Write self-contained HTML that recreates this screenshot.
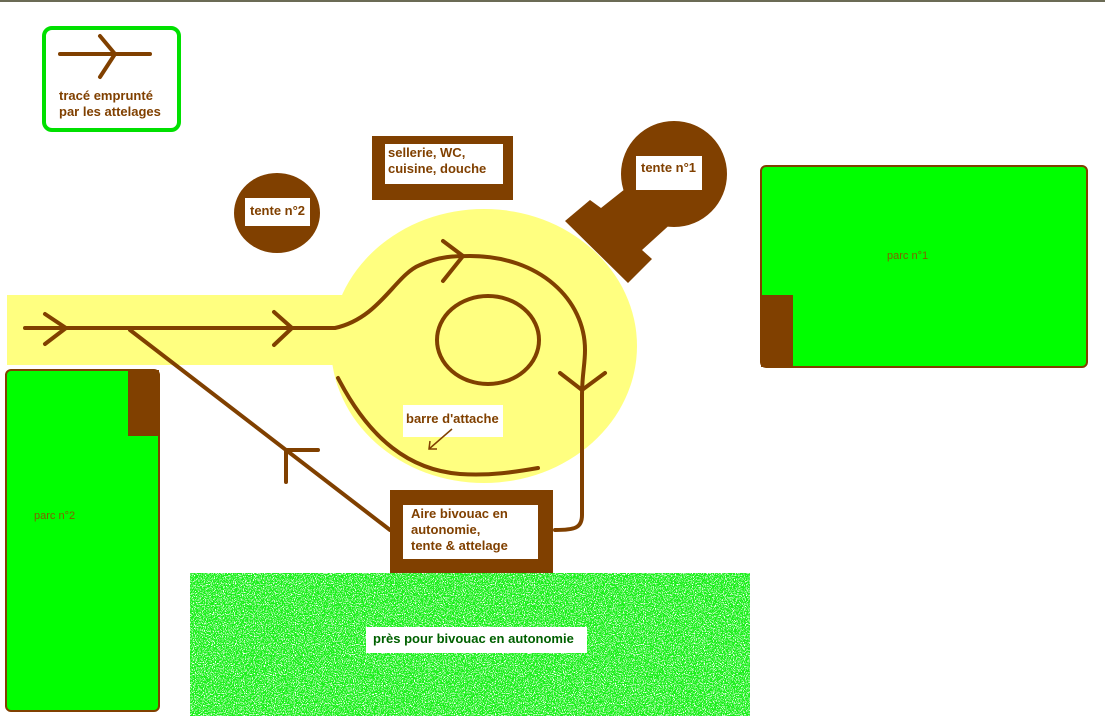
<!DOCTYPE html>
<html><head><meta charset="utf-8"><style>
html,body{margin:0;padding:0;background:#fff;}
svg{display:block;}
text{font-family:"Liberation Sans",Arial,sans-serif;font-weight:bold;font-size:13px;fill:#804000;}
</style></head><body>
<svg width="1105" height="716" viewBox="0 0 1105 716" xmlns="http://www.w3.org/2000/svg">
<defs>
<filter id="spk" x="0" y="0" width="100%" height="100%">
<feTurbulence type="fractalNoise" baseFrequency="0.9" numOctaves="2" seed="3" result="n"/>
<feColorMatrix in="n" type="matrix" values="0 0 0 0 1  0 0 0 0 1  0 0 0 0 1  0 0 0 -10 4.4" result="w"/>
<feComposite in="w" in2="SourceGraphic" operator="atop"/>
</filter>
</defs>
<rect x="0" y="0" width="1105" height="2" fill="#6b6b55"/>
<rect x="44" y="28" width="135" height="102" rx="8" fill="#fff" stroke="#00e000" stroke-width="4"/>
<g stroke="#804000" stroke-width="4" stroke-linecap="round" fill="none">
<line x1="60" y1="54" x2="150" y2="54"/>
<polyline points="100,36 115,54 100,77"/>
</g>
<text x="59" y="100">tracé emprunté</text>
<text x="59" y="116">par les attelages</text>
<rect x="7" y="295" width="340" height="70" fill="#ffff80"/>
<ellipse cx="484" cy="346" rx="153" ry="137" fill="#ffff80"/>
<circle cx="674" cy="174" r="53" fill="#804000"/>
<polygon points="565,221 590,200 601,208 630,185 675,220 642,250 652,259 628,283" fill="#804000"/>
<rect x="636" y="156" width="66" height="34" fill="#fff"/>
<text x="641" y="172">tente n°1</text>
<ellipse cx="277" cy="213" rx="43" ry="40" fill="#804000"/>
<rect x="245" y="198" width="65" height="28" fill="#fff"/>
<text x="250" y="215">tente n°2</text>
<rect x="372" y="136" width="141" height="64" fill="#804000"/>
<rect x="385" y="144" width="118" height="40" fill="#fff"/>
<text x="388" y="157">sellerie, WC,</text>
<text x="388" y="173">cuisine, douche</text>
<rect x="761" y="166" width="326" height="201" rx="5" fill="#00ff00" stroke="#804000" stroke-width="2"/>
<rect x="761" y="295" width="32" height="72" fill="#804000"/>
<text x="887" y="259" style="font-size:11px;font-weight:normal;fill:#806000">parc n°1</text>
<rect x="6" y="370" width="153" height="341" rx="5" fill="#00ff00" stroke="#804000" stroke-width="2"/>
<rect x="128" y="370" width="31" height="66" fill="#804000"/>
<text x="34" y="519" style="font-size:11px;font-weight:normal;fill:#806000">parc n°2</text>
<g stroke="#804000" stroke-width="4" stroke-linecap="round" stroke-linejoin="round" fill="none">
<path d="M25,328 L335,328 C380,318 395,275 420,265 C440,256 455,256 470,256 C540,256 585,300 585,350 C585,365 582,375 582,395 L582,515 C582,528 575,530 555,530"/>
<polyline points="45,314 66,328 45,344"/>
<polyline points="274,312 292,328 274,345"/>
<polyline points="443,241 463,256 443,281"/>
<polyline points="560,373 582,390 605,373"/>
<line x1="130" y1="330" x2="390" y2="530"/>
<polyline points="318,450 286,450 286,482"/>
<ellipse cx="488" cy="340" rx="51" ry="44"/>
<path d="M338,378 C370,440 410,470 460,474 C490,476 515,472 538,468"/>
</g>
<rect x="403" y="405" width="100" height="32" fill="#fff"/>
<text x="406" y="423">barre d'attache</text>
<g stroke="#804000" stroke-width="1.5" fill="none"><line x1="452" y1="429" x2="429" y2="449"/><polyline points="430,441 429,449 437,449"/></g>
<rect x="390" y="490" width="163" height="85" fill="#804000"/>
<rect x="403" y="505" width="135" height="54" fill="#fff"/>
<text x="411" y="518">Aire bivouac en</text>
<text x="411" y="534">autonomie,</text>
<text x="411" y="550">tente &amp; attelage</text>
<rect x="190" y="573" width="560" height="143" fill="#1ef01e" filter="url(#spk)"/>
<rect x="366" y="627" width="221" height="26" fill="#fff"/>
<text x="373" y="643" style="fill:#006000">près pour bivouac en autonomie</text>
</svg>
</body></html>
